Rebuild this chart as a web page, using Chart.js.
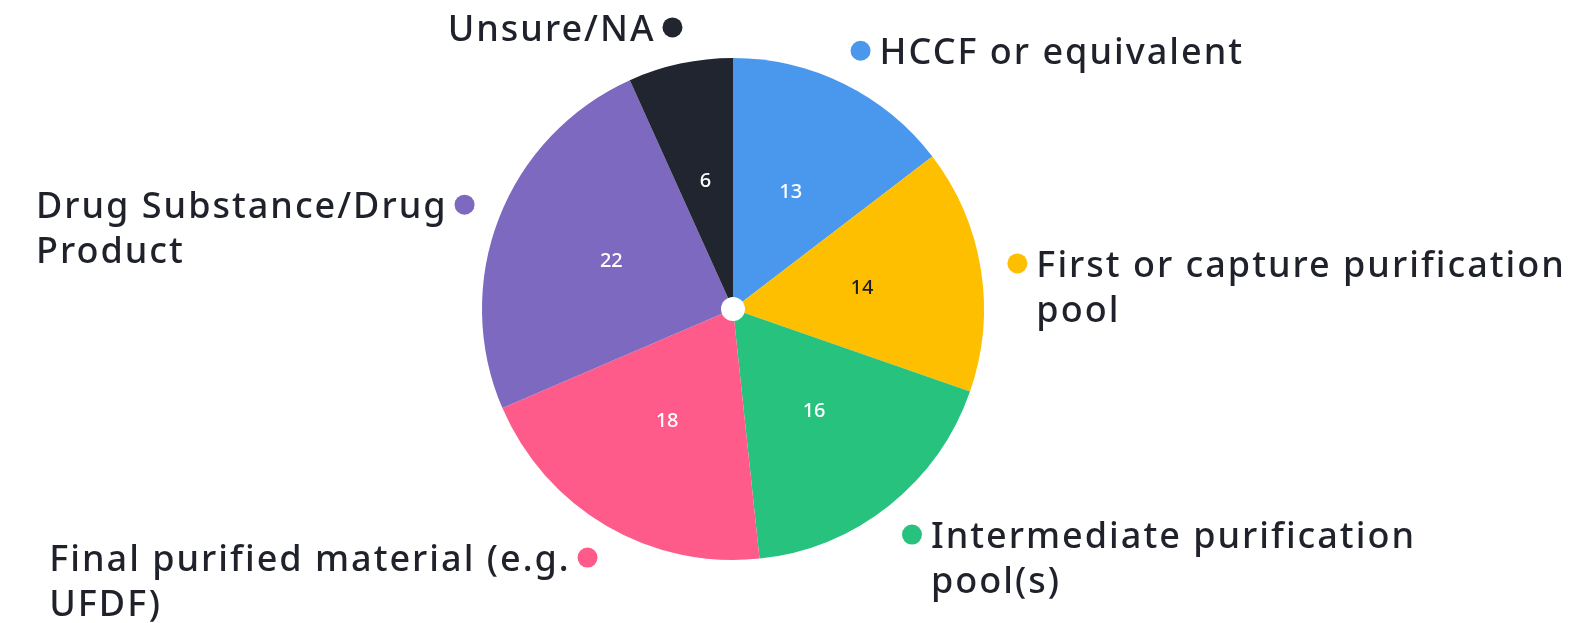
<!DOCTYPE html>
<html>
<head>
<meta charset="utf-8">
<script src="https://cdn.jsdelivr.net/npm/chart.js@4/dist/chart.umd.min.js"></script>
<style>
  html, body { margin: 0; padding: 0; background: #ffffff; }
  #wrap { width: 1589px; height: 623px; }
</style>
</head>
<body>
<div id="wrap"><canvas id="myChart" width="1589" height="623"></canvas></div>
<script>
const categories = [
    ['HCCF or equivalent'],
    ['First or capture purification', 'pool'],
    ['Intermediate purification', 'pool(s)'],
    ['Final purified material (e.g.', 'UFDF)'],
    ['Drug Substance/Drug', 'Product'],
    ['Unsure/NA']
];
const counts = [13, 14, 16, 18, 22, 6];
const sliceColors = ['#4a98ee', '#fdbf00', '#26c27e', '#fe5b8b', '#7d69c0', '#20252f'];
const valueColors = ['#ffffff', '#1b1d24', '#ffffff', '#ffffff', '#ffffff', '#ffffff'];

const labelFont = '500 36px "Noto Sans"';
const textColor = '#1f222a';

// draws the outside labels with their dots, the values and the centre dot
const pieLabels = {
    id: 'pieLabels',
    afterDatasetsDraw(chart) {
        const ctx = chart.ctx;
        const meta = chart.getDatasetMeta(0);
        ctx.save();
        meta.data.forEach((arc, i) => {
            const mid = (arc.startAngle + arc.endAngle) / 2;
            const cos = Math.cos(mid), sin = Math.sin(mid);

            // value inside slice
            const vr = arc.outerRadius * 0.52;
            ctx.letterSpacing = '0px';
            ctx.font = '500 20px "Noto Sans"';
            ctx.fillStyle = valueColors[i];
            ctx.textAlign = 'center';
            ctx.textBaseline = 'middle';
            ctx.fillText(String(counts[i]), arc.x + cos * vr, arc.y + sin * vr);

            // dot outside
            const r = arc.outerRadius + 37;
            const dx = arc.x + cos * r, dy = arc.y + sin * r;
            ctx.beginPath();
            ctx.arc(dx, dy, 10, 0, Math.PI * 2);
            ctx.fillStyle = sliceColors[i];
            ctx.fill();

            // label text
            const right = cos >= 0;
            ctx.font = labelFont;
            ctx.letterSpacing = '2px';
            ctx.fillStyle = textColor;
            ctx.textAlign = 'left';
            const lines = chart.data.labels[i];
            const firstW = ctx.measureText(lines[0]).width;
            const lx = right ? dx + 19 : dx - 17 - firstW;
            lines.forEach((line, j) => {
                ctx.fillText(line, lx, dy + 3 + j * 45.5);
            });
        });
        // white centre dot
        const a = meta.data[0];
        ctx.beginPath();
        ctx.arc(a.x, a.y, 12, 0, Math.PI * 2);
        ctx.fillStyle = '#ffffff';
        ctx.fill();
        ctx.restore();
    }
};

new Chart(document.getElementById('myChart'), {
    type: 'pie',
    data: {
        labels: categories,
        datasets: [{
            data: counts,
            backgroundColor: sliceColors,
            borderWidth: 0,
            hoverOffset: 0
        }]
    },
    options: {
        responsive: false,
        animation: false,
        layout: { padding: { top: 58, bottom: 63, left: 0, right: 123 } },
        plugins: {
            legend: { display: false },
            tooltip: { enabled: false }
        }
    },
    plugins: [pieLabels]
});
</script>
</body>
</html>
